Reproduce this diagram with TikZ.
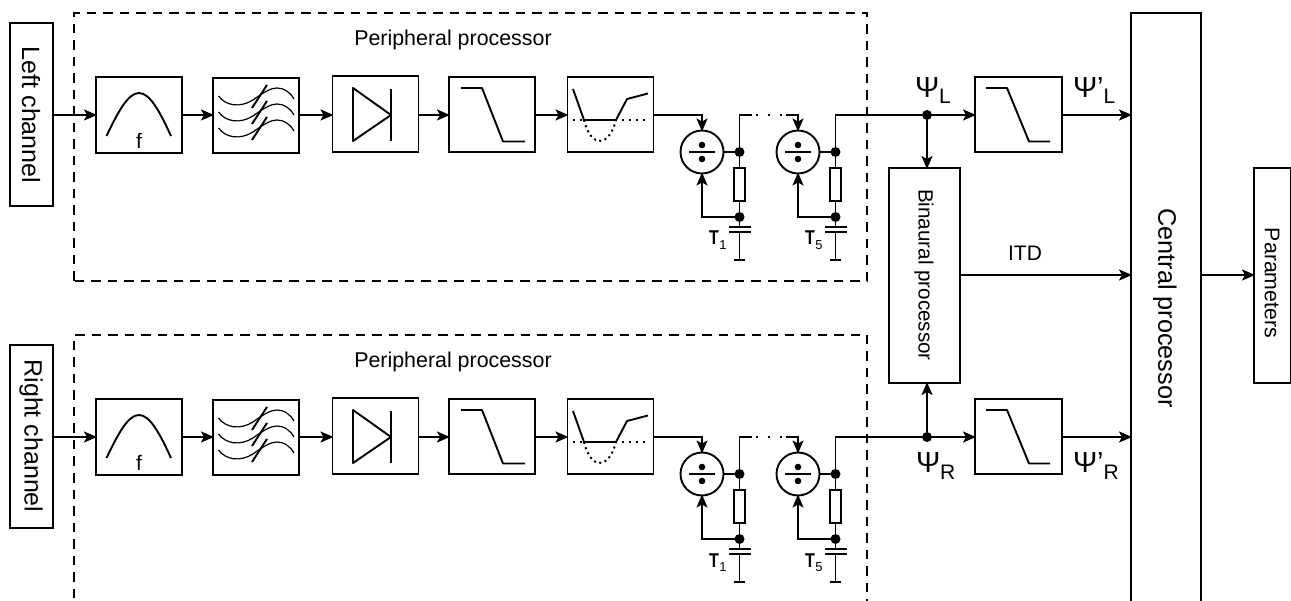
\documentclass[tikz,border=0pt]{standalone}
\usepackage{fontspec}
\setmainfont{Liberation Sans}
\usetikzlibrary{arrows.meta}
\newcommand{\fs}[1]{\fontsize{#1}{#1}\selectfont}
\tikzset{
  wire/.style={line width=1.9pt,-{Stealth[length=13pt,width=11pt,inset=3pt]},shorten >=-1pt},
  plain/.style={line width=1.9pt},
  blockbox/.style={draw,line width=1.9pt,minimum width=86pt,minimum height=75.5pt,inner sep=0pt,outer sep=0pt},
  labelbox/.style={draw,line width=1.9pt,inner sep=0pt,outer sep=0pt},
  junction/.style={circle,fill=black,minimum size=10pt,inner sep=0pt,outer sep=0pt},
  divnode/.style={circle,draw,line width=1.9pt,minimum size=43pt,inner sep=0pt,outer sep=0pt},
  resist/.style={draw,line width=1.9pt,minimum width=11.5pt,minimum height=33pt,inner sep=0pt,outer sep=0pt,fill=white},
  dashbox/.style={line width=1.9pt,dash pattern=on 9.5pt off 7pt},
  txt/.style={inner sep=0pt,outer sep=0pt},
}
% #1 name suffix, #2 x of divider, #3 tau index, #4 y offset
\newcommand{\Stage}[4]{%
  \node[divnode] (d#1) at (#2,152+#4) {};
  \fill (#2,145+#4) circle (3.3pt);
  \fill (#2,159+#4) circle (3.3pt);
  \draw[plain] (#2-13,152+#4) -- (#2+13,152+#4);
  \node[junction] (ja#1) at (#2+37.5,152+#4) {};
  \node[junction] (jb#1) at (#2+37.5,217+#4) {};
  \node[resist] (r#1) at (#2+37.5,184.5+#4) {};
  \coordinate (ca#1) at (#2+37.5,227+#4);
  \coordinate (cb#1) at (#2+37.5,232+#4);
  \coordinate (g#1) at (#2+37.5,260+#4);
  \draw[plain] (d#1) -- (ja#1);
  \draw[plain] (ja#1) -- (r#1);
  \draw[plain] (r#1) -- (jb#1);
  \draw[plain] (jb#1) -- (ca#1);
  \draw[plain] (cb#1) -- (g#1);
  \draw[plain] ([xshift=-11pt]ca#1) -- ([xshift=11pt]ca#1);
  \draw[plain] ([xshift=-11pt]cb#1) -- ([xshift=11pt]cb#1);
  \draw[plain] ([xshift=-5.5pt]g#1) -- ([xshift=5.5pt]g#1);
  \draw[wire] (jb#1) -| (d#1.south);
  \node[txt,anchor=base west] at (#2+7,245+#4) {\fs{20}\scalebox{0.8}[1]{\bfseries T}\kern0.5pt\raisebox{-4.5pt}{\fs{13}#3}};
}
% #1 suffix, #2 y offset
\newcommand{\Row}[2]{%
  \node[blockbox] (a#1) at (139,115+#2) {};
  \node[blockbox] (b#1) at (256,115.5+#2) {};
  \node[blockbox] (c#1) at (375.5,114+#2) {};
  \node[blockbox] (e#1) at (492,114.5+#2) {};
  \node[blockbox] (h#1) at (610.5,114.5+#2) {};
  \draw[wire] (a#1.east|-0,115+#2) -- (b#1.west|-0,115+#2);
  \draw[wire] (b#1.east|-0,115+#2) -- (c#1.west|-0,115+#2);
  \draw[wire] (c#1.east|-0,115+#2) -- (e#1.west|-0,115+#2);
  \draw[wire] (e#1.east|-0,115+#2) -- (h#1.west|-0,115+#2);
  % band-pass
  \draw[line width=1.9pt] (106.5,136+#2) .. controls (118,112+#2) and (128,93+#2) .. (139,93+#2) .. controls (150,93+#2) and (160,112+#2) .. (171,136+#2);
  \node[txt] at (139,141+#2) {\fs{21}f};
  % filter bank
  \foreach \dy in {0,16,32} {
    \draw[line width=1.2pt] (218.5,96+\dy+#2) .. controls (226,106+\dy+#2) and (240,108+\dy+#2) .. (253,100+\dy+#2) .. controls (264,92+\dy+#2) and (271,88+\dy+#2) .. (277,88+\dy+#2) .. controls (284,88+\dy+#2) and (290,92+\dy+#2) .. (294,99+\dy+#2);
    \draw[line width=1.9pt] (267,85+\dy+#2) -- (252,108+\dy+#2);
  }
  % rectifier
  \draw[line width=1.9pt,line join=round] (353,88+#2) -- (353,141+#2) -- (391,115+#2) -- cycle;
  \draw[line width=1.9pt] (391,89+#2) -- (391,141+#2);
  % low-pass
  \draw[line width=1.9pt,line join=round] (461,88+#2) -- (482,88+#2) -- (503,141.5+#2) -- (525,141.5+#2);
  % adaptation
  \draw[line width=1.9pt,line join=round] (573,89+#2) -- (584,120+#2) -- (616,120+#2) -- (627,99+#2) -- (648,93.5+#2);
  \draw[line width=2pt,dash pattern=on 2pt off 5pt] (573,120+#2) -- (648,120+#2);
  \draw[line width=2pt,dash pattern=on 2pt off 3.5pt] (584,120+#2) .. controls (590,146+#2) and (608,150+#2) .. (616,120+#2);
  % divider stages
  \Stage{#1x}{702}{1}{#2}
  \Stage{#1y}{798}{5}{#2}
  \draw[wire] (h#1.east|-0,115+#2) -| (d#1x.north);
  \coordinate (s#1) at (752,115+#2);
  \coordinate (q#1) at (786,115+#2);
  \draw[plain] (ja#1x) |- (s#1);
  \draw[line width=2pt,dash pattern=on 2pt off 10pt] (s#1) ++(4,0) -- (q#1);
  \draw[wire] (q#1) -| (d#1y.north);
  % low-pass after the peripheral processor
  \node[blockbox,minimum width=87pt] (l#1) at (1018.5,114.5+#2) {};
  \draw[line width=1.9pt,line join=round] (986,88+#2) -- (1007,88+#2) -- (1029,141.5+#2) -- (1050,141.5+#2);
  \node[junction] (p#1) at (927,115+#2) {};
  \draw[plain] (ja#1y) |- (p#1);
  \draw[wire] (p#1) -- (l#1.west|-p#1);
  \draw[wire] (l#1.east|-p#1) -- (cp.west|-p#1);
  \draw[wire] (#1ch.east|-p#1) -- (a#1.west|-p#1);
}
\begin{document}
\begin{tikzpicture}[x=1pt,y=-1pt]
\useasboundingbox (0,0) rectangle (1291,601);
\clip (0,0) rectangle (1291,601);
% dashed frames
\draw[dashbox] (74,281) -- (74,13) -- (867,13) -- (867,281) -- cycle;
\draw[dashbox] (74,598) -- (74,335) -- (867,335) -- (867,620);
\node[txt] (ppa) at (453,40) {\fs{21.4}Peripheral processor};
\node[txt] (ppb) at (453,362) {\fs{21.4}Peripheral processor};
% side labels
\node[labelbox,minimum width=43pt,minimum height=183pt] (tch) at (31.5,114.5) {};
\node[txt,rotate=-90] (tl) at (31,115) {\fs{25}Left channel};
\node[labelbox,minimum width=43pt,minimum height=183pt] (uch) at (31.5,436.5) {};
\node[txt,rotate=-90] (ul) at (31,436) {\fs{25}Right channel};
% central and binaural processors
\node[labelbox,minimum width=70pt,minimum height=640pt,anchor=north west] (cp) at (1131,13) {};
\node[txt,rotate=-90] (cpl) at (1165,308) {\fs{25.3}Central processor};
\node[labelbox,minimum width=71pt,minimum height=215pt,anchor=north west] (bp) at (889,168) {};
\node[txt,rotate=-90] (bpl) at (924,275) {\fs{20.6}Binaural processor};
\node[labelbox,minimum width=36.5pt,minimum height=215pt,anchor=north west] (pm) at (1254,168) {};
\node[txt,rotate=-90] (pml) at (1272,283) {\fs{21.3}Parameters};
\Row{t}{0}
\Row{u}{322}
\draw[wire] (pt) -- (bp.north-|pt);
\draw[wire] (bp.east|-0,275) -- (cp.west|-0,275);
\draw[wire] (cp.east|-0,275) -- (pm.west|-0,275);
\node[txt] (itd) at (1025,253) {\fs{21}ITD};
\draw[wire] (pu) -- (bp.south-|pu);
\node[txt,anchor=base west] (psl) at (915,98) {\fs{29}Ψ\raisebox{-6pt}{\fs{21}L}};
\node[txt,anchor=base west] (psla) at (1073,98) {\fs{29}Ψ'\raisebox{-6pt}{\fs{21}L}};
\node[txt,anchor=base west] (psr) at (916,473) {\fs{29}Ψ\raisebox{-6pt}{\fs{21}R}};
\node[txt,anchor=base west] (psra) at (1073,473) {\fs{29}Ψ'\raisebox{-6pt}{\fs{21}R}};
\end{tikzpicture}
\end{document}
